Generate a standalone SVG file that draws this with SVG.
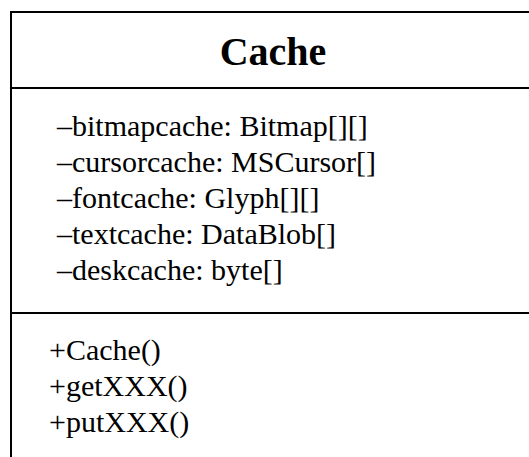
<svg xmlns="http://www.w3.org/2000/svg" width="529" height="457" viewBox="0 0 529 457">
<style>
text{font-family:'Liberation Serif','Times New Roman',serif;fill:#000}
.t{font-size:30px}
.title{font-size:40px;font-weight:bold}
.ln{stroke:#000;stroke-width:2;fill:none}
</style>
<rect width="529" height="457" fill="#fff"/>
<g id="class-cache">
<path class="ln" d="M540,12 H11 V470"/>
<line class="ln" x1="11" y1="88" x2="540" y2="88"/>
<line class="ln" x1="11" y1="313" x2="540" y2="313"/>
<text class="title" x="273" y="65" text-anchor="middle">Cache</text>
<text class="t" x="57" y="136">–bitmapcache: Bitmap[][]</text>
<text class="t" x="57" y="172">–cursorcache: MSCursor[]</text>
<text class="t" x="57" y="208">–fontcache: Glyph[][]</text>
<text class="t" x="57" y="244">–textcache: DataBlob[]</text>
<text class="t" x="57" y="280">–deskcache: byte[]</text>
<text class="t" x="49" y="360">+Cache()</text>
<text class="t" x="49" y="396">+getXXX()</text>
<text class="t" x="49" y="432">+putXXX()</text>
</g>
</svg>
